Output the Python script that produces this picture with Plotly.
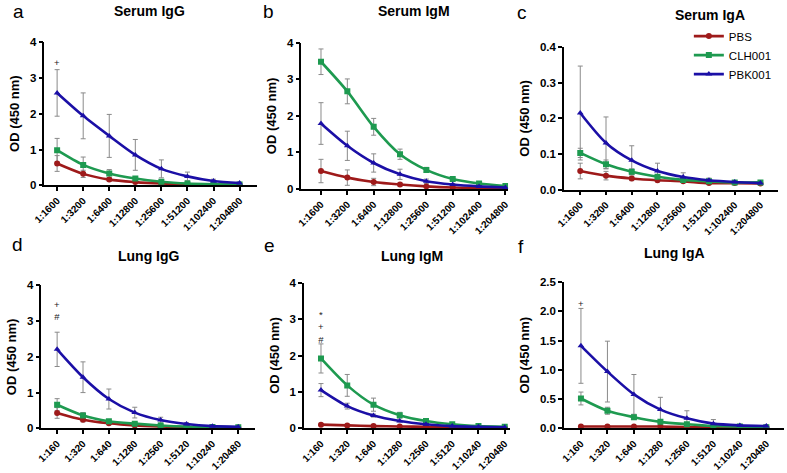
import plotly.graph_objects as go

# ---------------- data ----------------
serum_dil = ["1:1600", "1:3200", "1:6400", "1:12800", "1:25600", "1:51200", "1:102400", "1:204800"]
lung_dil = ["1:160", "1:320", "1:640", "1:1280", "1:2560", "1:5120", "1:10240", "1:20480"]
groups = ["PBS", "CLH001", "PBK001"]

# Serum IgG
sIgG_pbs = [0.61, 0.32, 0.16, 0.09, 0.05, 0.03, 0.02, 0.01]
sIgG_pbs_err = [0.22, 0.10, 0.04, 0.02, 0.01, 0.01, 0.0, 0.0]
sIgG_clh = [0.98, 0.57, 0.33, 0.19, 0.10, 0.05, 0.03, 0.02]
sIgG_clh_err = [0.33, 0.22, 0.11, 0.05, 0.03, 0.02, 0.01, 0.0]
sIgG_pbk = [2.58, 1.94, 1.38, 0.85, 0.46, 0.25, 0.12, 0.065]
sIgG_pbk_err = [0.65, 0.64, 0.60, 0.43, 0.25, 0.12, 0.05, 0.02]

# Serum IgM
sIgM_pbs = [0.49, 0.31, 0.19, 0.12, 0.07, 0.04, 0.03, 0.02]
sIgM_pbs_err = [0.32, 0.21, 0.10, 0.04, 0.02, 0.01, 0.01, 0.0]
sIgM_clh = [3.48, 2.67, 1.70, 0.95, 0.52, 0.27, 0.15, 0.08]
sIgM_clh_err = [0.35, 0.34, 0.23, 0.14, 0.07, 0.03, 0.02, 0.01]
sIgM_pbk = [1.79, 1.18, 0.71, 0.40, 0.21, 0.12, 0.07, 0.04]
sIgM_pbk_err = [0.57, 0.40, 0.25, 0.14, 0.06, 0.03, 0.01, 0.01]

# Serum IgA
sIgA_pbs = [0.052, 0.039, 0.031, 0.026, 0.023, 0.018, 0.018, 0.017]
sIgA_pbs_err = [0.022, 0.012, 0.006, 0.004, 0.003, 0.002, 0.001, 0.001]
sIgA_clh = [0.103, 0.071, 0.050, 0.036, 0.027, 0.023, 0.020, 0.020]
sIgA_clh_err = [0.013, 0.012, 0.008, 0.005, 0.004, 0.002, 0.001, 0.001]
sIgA_pbk = [0.215, 0.131, 0.082, 0.052, 0.035, 0.026, 0.021, 0.018]
sIgA_pbk_err = [0.132, 0.073, 0.041, 0.022, 0.012, 0.006, 0.003, 0.002]

# Lung IgG
lIgG_pbs = [0.43, 0.24, 0.14, 0.08, 0.05, 0.03, 0.02, 0.02]
lIgG_pbs_err = [0.15, 0.06, 0.03, 0.02, 0.01, 0.01, 0.0, 0.0]
lIgG_clh = [0.66, 0.36, 0.20, 0.13, 0.08, 0.05, 0.04, 0.03]
lIgG_clh_err = [0.17, 0.08, 0.04, 0.02, 0.01, 0.01, 0.0, 0.0]
lIgG_pbk = [2.21, 1.43, 0.82, 0.44, 0.23, 0.12, 0.06, 0.04]
lIgG_pbk_err = [0.48, 0.43, 0.28, 0.15, 0.08, 0.04, 0.02, 0.01]

# Lung IgM
lIgM_pbs = [0.10, 0.08, 0.06, 0.05, 0.04, 0.03, 0.03, 0.02]
lIgM_pbs_err = [0.02, 0.01, 0.01, 0.01, 0.0, 0.0, 0.0, 0.0]
lIgM_clh = [1.92, 1.18, 0.65, 0.36, 0.20, 0.11, 0.06, 0.04]
lIgM_clh_err = [0.40, 0.30, 0.18, 0.08, 0.04, 0.02, 0.01, 0.01]
lIgM_pbk = [1.05, 0.61, 0.35, 0.20, 0.11, 0.06, 0.04, 0.03]
lIgM_pbk_err = [0.18, 0.08, 0.04, 0.02, 0.01, 0.01, 0.0, 0.0]

# Lung IgA
lIgA_pbs = [0.03, 0.03, 0.03, 0.03, 0.02, 0.02, 0.02, 0.02]
lIgA_pbs_err = [0.01, 0.01, 0.0, 0.0, 0.0, 0.0, 0.0, 0.0]
lIgA_clh = [0.51, 0.30, 0.19, 0.11, 0.07, 0.04, 0.03, 0.02]
lIgA_clh_err = [0.11, 0.06, 0.04, 0.02, 0.01, 0.01, 0.0, 0.0]
lIgA_pbk = [1.41, 0.97, 0.58, 0.32, 0.17, 0.08, 0.05, 0.04]
lIgA_pbk_err = [0.64, 0.52, 0.34, 0.21, 0.13, 0.07, 0.02, 0.01]

titles = ["Serum IgG", "Serum IgM", "Serum IgA", "Lung IgG", "Lung IgM", "Lung IgA"]
letters = ["a", "b", "c", "d", "e", "f"]
ytitle = "OD (450 nm)"

# significance marks above the first dilution: stacked symbols, y of stack centre
sig_a = (["+"], 3.42)
sig_b = (["*", "+", "#"], 4.25)
sig_c = ([], 0)
sig_d = (["+", "#"], 3.30)
sig_e = (["*", "+", "#"], 2.79)
sig_f = (["+"], 2.14)

# ---------------- styling / layout geometry ----------------
W, H = 787, 473
colors = {"PBS": "#9E1A1A", "CLH001": "#1E9A50", "PBK001": "#1B0FA6"}
symbols = {"PBS": "circle", "CLH001": "square", "PBK001": "triangle-up"}
FONT = "Liberation Sans, Arial, sans-serif"

panels = [
    dict(dil=serum_dil, ymax=4, dt=1, fmt="d",
         series=[(sIgG_pbs, sIgG_pbs_err), (sIgG_clh, sIgG_clh_err), (sIgG_pbk, sIgG_pbk_err)],
         sig=sig_a, geo=(33, 250, 46, 232, 37, 184), tpos=(140, 5), lpos=(7, 6)),
    dict(dil=serum_dil, ymax=4, dt=1, fmt="d",
         series=[(sIgM_pbs, sIgM_pbs_err), (sIgM_clh, sIgM_clh_err), (sIgM_pbk, sIgM_pbk_err)],
         sig=sig_b, geo=(295, 505.7, 315, 503, 37.7, 187.7), tpos=(410, 5), lpos=(261, 6)),
    dict(dil=serum_dil, ymax=0.4, dt=0.1, fmt=".1f",
         series=[(sIgA_pbs, sIgA_pbs_err), (sIgA_clh, sIgA_clh_err), (sIgA_pbk, sIgA_pbk_err)],
         sig=sig_c, geo=(562.7, 780.7, 579.3, 763, 42.3, 188.3), tpos=(712, 9), lpos=(520, 7)),
    dict(dil=lung_dil, ymax=4, dt=1, fmt="d",
         series=[(lIgG_pbs, lIgG_pbs_err), (lIgG_clh, lIgG_clh_err), (lIgG_pbk, lIgG_pbk_err)],
         sig=sig_d, geo=(30, 248, 46, 230.7, 286.7, 433.3), tpos=(140, 256), lpos=(6, 245)),
    dict(dil=lung_dil, ymax=4, dt=1, fmt="d",
         series=[(lIgM_pbs, lIgM_pbs_err), (lIgM_clh, lIgM_clh_err), (lIgM_pbk, lIgM_pbk_err)],
         sig=sig_e, geo=(297.7, 508, 315, 502.3, 284, 433.3), tpos=(408, 257), lpos=(262, 246)),
    dict(dil=lung_dil, ymax=2.5, dt=0.5, fmt=".1f",
         series=[(lIgA_pbs, lIgA_pbs_err), (lIgA_clh, lIgA_clh_err), (lIgA_pbk, lIgA_pbk_err)],
         sig=sig_f, geo=(562.7, 786.7, 580, 769, 283.3, 433.3), tpos=(675, 253), lpos=(519, 247)),
]

fig = go.Figure()
layout = dict(
    width=W, height=H, margin=dict(l=0, r=0, t=0, b=0),
    paper_bgcolor="white", plot_bgcolor="white",
    font=dict(family=FONT, color="black"),
    showlegend=True,
    legend=dict(x=690 / W, y=1 - 16 / H, xanchor="left", yanchor="top",
                font=dict(size=11.5, family=FONT), tracegroupgap=0, traceorder="normal",
                bgcolor="rgba(0,0,0,0)", itemwidth=30, borderwidth=0),
)
annotations = []

for i, p in enumerate(panels):
    n = i + 1
    xa = "x" if n == 1 else f"x{n}"
    ya = "y" if n == 1 else f"y{n}"
    x0px, x1px, c0, c7, ytop, ybot = p["geo"]
    step = (c7 - c0) / 7
    xr = [(x0px - c0) / step, (x1px - c0) / step]
    layout["xaxis" if n == 1 else f"xaxis{n}"] = dict(
        domain=[x0px / W, x1px / W], anchor=ya, type="category",
        categoryorder="array", categoryarray=p["dil"], range=xr,
        showline=True, linecolor="black", linewidth=1.5, showgrid=False, zeroline=False,
        ticks="outside", ticklen=4, tickwidth=1.5, tickcolor="black", tickangle=-45,
        tickfont=dict(size=10, family=FONT, weight="bold"),
    )
    nt = int(round(p["ymax"] / p["dt"])) + 1
    tv = [round(k * p["dt"], 2) for k in range(nt)]
    tt = [(f"{v:.1f}" if p["fmt"] == ".1f" else f"{int(v)}") for v in tv]
    layout["yaxis" if n == 1 else f"yaxis{n}"] = dict(
        domain=[1 - ybot / H, 1 - ytop / H], anchor=xa, range=[0, p["ymax"]],
        tickvals=tv, ticktext=tt,
        showline=True, linecolor="black", linewidth=1.5, showgrid=False, zeroline=False,
        ticks="outside", ticklen=4, tickwidth=1.5, tickcolor="black",
        tickfont=dict(size=11.5, family=FONT, weight="bold"),
        title=dict(text=ytitle, font=dict(size=13, family=FONT, weight="bold"), standoff=7),
    )
    # error bars first (behind lines)
    for g, (vals, errs) in zip(groups, p["series"]):
        fig.add_trace(go.Scatter(
            x=p["dil"], y=vals, mode="markers", xaxis=xa, yaxis=ya,
            marker=dict(size=1, opacity=0), showlegend=False, hoverinfo="skip",
            error_y=dict(type="data", array=errs, visible=True, color="#8a8a8a",
                         thickness=1, width=2.5),
        ))
    for g, (vals, errs) in zip(groups, p["series"]):
        fig.add_trace(go.Scatter(
            x=p["dil"], y=vals, mode="lines+markers", name=g, xaxis=xa, yaxis=ya,
            line=dict(color=colors[g], width=2.6, shape="spline", smoothing=0.8),
            marker=dict(symbol=symbols[g], size=6, color=colors[g]),
            showlegend=(n == 3),
        ))
    syms, yv = p["sig"]
    if syms:
        annotations.append(dict(x=p["dil"][0], y=yv, xref=xa, yref=ya,
                                text="<br>".join(syms), showarrow=False,
                                yanchor="middle", align="center",
                                font=dict(size=9.5, color="#222222", family=FONT)))
    tx, ty = p["tpos"]
    annotations.append(dict(x=tx / W, y=1 - ty / H, xref="paper", yref="paper",
                            text=titles[i], showarrow=False, xanchor="center", yanchor="middle",
                            font=dict(size=14, family=FONT, weight="bold")))
    lx, ly = p["lpos"]
    annotations.append(dict(x=lx / W, y=1 - ly / H, xref="paper", yref="paper",
                            text=letters[i], showarrow=False, xanchor="center", yanchor="middle",
                            font=dict(size=19, family=FONT)))

layout["annotations"] = annotations
fig.update_layout(**layout)
fig.write_html("out.html", config={"displayModeBar": False},
               post_script="document.body.style.margin='0';")
